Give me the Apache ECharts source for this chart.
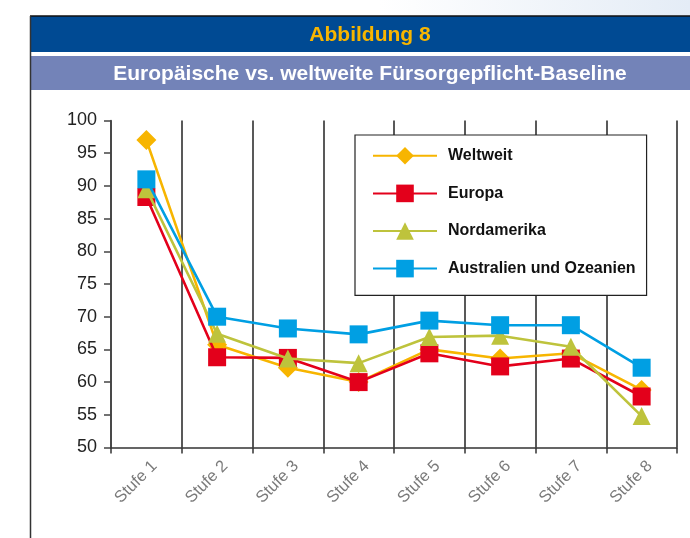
<!DOCTYPE html>
<html>
<head>
<meta charset="utf-8">
<script src="https://cdn.jsdelivr.net/npm/echarts@6/dist/echarts.min.js"></script>
<style>
html,body{margin:0;padding:0;background:#fff;}
#chart{width:690px;height:538px;}
</style>
</head>
<body>
<div id="chart"></div>
<script>
const figureLabel = 'Abbildung 8';
const chartTitle = 'Europäische vs. weltweite Fürsorgepflicht-Baseline';
const categories = ['Stufe 1', 'Stufe 2', 'Stufe 3', 'Stufe 4', 'Stufe 5', 'Stufe 6', 'Stufe 7', 'Stufe 8'];
const seriesNames = ['Weltweit', 'Europa', 'Nordamerika', 'Australien und Ozeanien'];
const weltweit = [97.0, 65.7, 62.2, 60.0, 65.0, 63.6, 64.4, 58.8];
const europa = [88.3, 63.8, 63.7, 60.0, 64.4, 62.4, 63.6, 57.8];
const nordamerika = [89.5, 67.4, 63.6, 62.9, 66.9, 67.1, 65.4, 54.8];
const australien = [91.0, 70.0, 68.2, 67.3, 69.4, 68.7, 68.7, 62.2];
const yMin = 50, yMax = 100, yStep = 5;

const colors = ['#F7B500', '#E3001B', '#BEC33C', '#009FE3'];
const symbols = ['diamond', 'rect', 'triangle', 'rect'];
const symbolSizes = [20, 18, 18, 18];
const values = [weltweit, europa, nordamerika, australien];

const chart = echarts.init(document.getElementById('chart'), null, {renderer: 'canvas'});

const series = seriesNames.map((name, i) => ({
  name: name,
  type: 'line',
  data: values[i],
  symbol: symbols[i],
  symbolSize: symbolSizes[i],
  z: 3 + i,
  lineStyle: {color: colors[i], width: 2.6},
  itemStyle: {color: colors[i]},
  emphasis: {disabled: true},
  animation: false
}));

const option = {
  animation: false,
  textStyle: {fontFamily: 'Liberation Sans, Arial, sans-serif'},
  graphic: [
    {type: 'rect', shape: {x: 0, y: 0, width: 690, height: 16}, silent: true,
      style: {fill: new echarts.graphic.LinearGradient(0, 0, 1, 0, [
        {offset: 0, color: '#ffffff'}, {offset: 0.55, color: '#ffffff'}, {offset: 1, color: '#e4ecf6'}])}},
    {type: 'rect', shape: {x: 30, y: 16, width: 660, height: 36}, silent: true,
      style: {fill: '#004A93'}},
    {type: 'rect', shape: {x: 31, y: 56, width: 659, height: 34}, silent: true,
      style: {fill: '#7383B8'}},
    {type: 'line', shape: {x1: 30, y1: 16, x2: 690, y2: 16}, silent: true,
      style: {stroke: '#111', lineWidth: 1.5}},
    {type: 'line', shape: {x1: 30.5, y1: 16, x2: 30.5, y2: 538}, silent: true,
      style: {stroke: '#333', lineWidth: 1.5}},
    {type: 'text', x: 370, y: 35, silent: true,
      style: {text: figureLabel, fill: '#F7B500', font: 'bold 21px "Liberation Sans", Arial, sans-serif',
        align: 'center', verticalAlign: 'middle'}},
    {type: 'text', x: 370, y: 74, silent: true,
      style: {text: chartTitle, fill: '#ffffff', font: 'bold 21px "Liberation Sans", Arial, sans-serif',
        align: 'center', verticalAlign: 'middle'}}
  ],
  legend: {
    orient: 'vertical',
    left: 355,
    top: 135,
    data: seriesNames,
    itemWidth: 64,
    itemHeight: 22,
    itemGap: 20,
    padding: [12, 11, 18, 17],
    borderColor: '#222',
    borderWidth: 1.2,
    backgroundColor: '#fff',
    selectedMode: false,
    textStyle: {fontSize: 16, fontWeight: 'bold', color: '#111', padding: [0, 0, 0, 6],
      fontFamily: 'Liberation Sans, Arial, sans-serif'}
  },
  grid: {left: 111, right: 13, top: 120.5, bottom: 90.5, containLabel: false},
  xAxis: {
    type: 'category',
    data: categories,
    boundaryGap: true,
    axisLine: {lineStyle: {color: '#333', width: 1.5}},
    axisTick: {show: true, length: 6, lineStyle: {color: '#333', width: 1.5}},
    splitLine: {show: true, lineStyle: {color: '#222', width: 1.5}},
    axisLabel: {rotate: 45, margin: 8, verticalAlign: 'top', padding: [3, 0, 0, 0],
      fontSize: 16.5, color: '#7a7a7a', interval: 0,
      fontFamily: 'Liberation Sans, Arial, sans-serif'}
  },
  yAxis: {
    type: 'value',
    min: yMin,
    max: yMax,
    interval: yStep,
    axisLine: {show: true, lineStyle: {color: '#444', width: 1.5}},
    axisTick: {show: true, length: 7, lineStyle: {color: '#444', width: 1.5}},
    splitLine: {show: false},
    axisLabel: {fontSize: 18, color: '#222', margin: 14,
      fontFamily: 'Liberation Sans, Arial, sans-serif'}
  },
  series: series
};

chart.setOption(option);
</script>
</body>
</html>
